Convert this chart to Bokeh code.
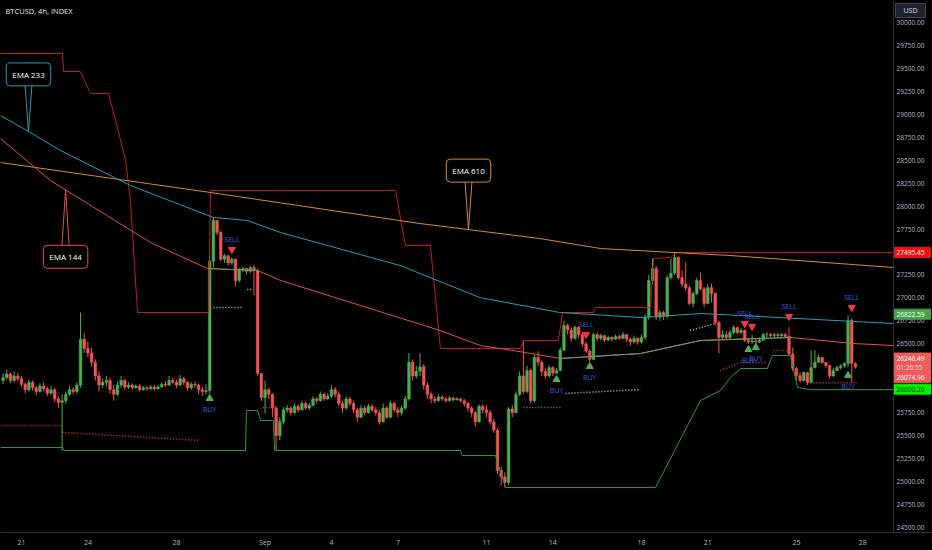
import numpy as np
from bokeh.plotting import figure
from bokeh.models import Range1d, FixedTicker, Label, ColumnDataSource, Span
from bokeh.embed import file_html
from bokeh.resources import INLINE
from bokeh.core.properties import value

# ---------------- data ----------------
symbol_title = "BTCUSD, 4h, INDEX"
first_open = 26100.0
# 4h candles, Aug 20 04:00 .. Sep 27 16:00 (one row per day)
closes = [
    26130, 26170, 26100, 26150, 26120,
    26060, 26000, 26080, 26020, 25980, 26040,
    26010, 25960, 26000, 25900, 25860, 25880,
    25950, 26000, 25980, 26050, 26550, 26450,
    26400, 26300, 26150, 26050, 26080, 26100,
    26000, 25950, 26050, 26100, 26030, 26050,
    26020, 26040, 26000, 26020, 26010, 26030,
    26010, 26030, 26060, 26050, 26100, 26080,
    26050, 26120, 26080, 26020, 26060, 26050,
    26000, 25980, 25990, 27400, 27843, 27712,
    27420, 27460, 27380, 27420, 27190, 27310,
    27320, 27290, 27330, 27300, 26176, 25915,
    26000, 25950, 25800, 25500, 25650, 25780,
    25800, 25750, 25820, 25780, 25850, 25800,
    25830, 25900, 25880, 25950, 25900, 25930,
    26000, 25950, 25850, 25800, 25900, 25850,
    25780, 25700, 25800, 25750, 25820, 25780,
    25750, 25650, 25800, 25700, 25850, 25780,
    25750, 25800, 25900, 26300, 26150, 26200,
    26250, 26050, 25950, 25900, 25880, 25920,
    25900, 25880, 25910, 25890, 25900, 25880,
    25850, 25800, 25750, 25650, 25820, 25780,
    25750, 25650, 25560, 25120, 25050, 24990,
    25790, 25750, 25950, 26150, 25980, 26210,
    25880, 26350, 26300, 26200, 26150, 26240,
    26180, 26210, 26430, 26700, 26650, 26560,
    26680, 26600, 26500, 26420, 26330, 26600,
    26560, 26590, 26540, 26570, 26550, 26580,
    26560, 26600, 26550, 26520, 26560, 26520,
    26570, 26790, 27190, 27320, 26790, 26840,
    26800, 27220, 27270, 27440, 27220, 27150,
    27110, 26940, 27048, 27190, 27100, 26940,
    27113, 27048, 26732, 26569, 26600, 26569,
    26623, 26678, 26623, 26645, 26536, 26520,
    26530, 26520, 26540, 26600, 26600, 26590,
    26600, 26590, 26600, 26580, 26390, 26231,
    26155, 26100, 26187, 26080, 26242, 26300,
    26351, 26296, 26264, 26150, 26209, 26242,
    26260, 26285, 26754, 26285, 26246.49,
]
highs = [
    26180, 26220, 26190, 26200, 26180,
    26150, 26080, 26110, 26100, 26040, 26070,
    26080, 26030, 26040, 26020, 25930, 25950,
    25980, 26040, 26030, 26080, 26841, 26620,
    26520, 26460, 26330, 26200, 26120, 26150,
    26130, 26050, 26090, 26150, 26120, 26080,
    26070, 26060, 26060, 26040, 26040, 26050,
    26050, 26050, 26080, 26090, 26150, 26130,
    26110, 26160, 26140, 26090, 26080, 26090,
    26070, 26030, 26060, 27450, 27876, 27850,
    27730, 27480, 27470, 27440, 27430, 27330,
    27340, 27330, 27350, 27360, 27320, 26180,
    26100, 26020, 25960, 25820, 25700, 25810,
    25830, 25820, 25850, 25840, 25880, 25870,
    25860, 25930, 25920, 25980, 25970, 25960,
    26050, 26030, 25980, 25880, 25930, 25920,
    25880, 25800, 25830, 25830, 25850, 25840,
    25810, 25780, 25850, 25820, 25880, 25870,
    25810, 25830, 25930, 26400, 26330, 26260,
    26400, 26280, 26080, 25980, 25930, 25950,
    25940, 25920, 25930, 25920, 25920, 25910,
    25900, 25870, 25820, 25770, 25840, 25840,
    25830, 25780, 25680, 25580, 25160, 25100,
    25810, 25830, 25980, 26200, 26540, 26260,
    26230, 26380, 26420, 26320, 26230, 26270,
    26260, 26240, 26460, 26750, 26720, 26680,
    26700, 26690, 26620, 26520, 26440, 26620,
    26620, 26610, 26600, 26590, 26580, 26600,
    26600, 26630, 26610, 26570, 26590, 26570,
    26600, 26820, 27250, 27429, 27350, 26870,
    26860, 27250, 27430, 27495, 27450, 27300,
    27385, 27130, 27070, 27220, 27277, 27120,
    27150, 27157, 27060, 26750, 26650, 26640,
    26650, 26700, 26690, 26670, 26660, 26560,
    26600, 26560, 26570, 26620, 26630, 26620,
    26620, 26620, 26620, 26620, 26680, 26460,
    26250, 26190, 26200, 26190, 26427, 26430,
    26380, 26360, 26300, 26270, 26242, 26260,
    26280, 26300, 26808, 26780, 26300,
]
lows = [
    26060, 26110, 26070, 26080, 26090,
    26030, 25960, 25980, 25990, 25940, 25970,
    25980, 25930, 25940, 25870, 25800, 25338,
    25850, 25930, 25950, 25960, 26020, 26400,
    26350, 26250, 26100, 25980, 26020, 26040,
    25960, 25880, 25930, 26020, 26000, 26010,
    26000, 26010, 25980, 25990, 25990, 26000,
    25990, 26000, 26020, 26030, 26040, 26060,
    26020, 26040, 26050, 25990, 26000, 26020,
    25950, 25930, 25950, 25960, 27330, 27680,
    27400, 27380, 27350, 27360, 27130, 27170,
    27280, 27260, 27270, 27030, 26150, 25880,
    25740, 25900, 25700, 25338, 25450, 25620,
    25750, 25720, 25730, 25750, 25770, 25780,
    25780, 25820, 25850, 25870, 25880, 25890,
    25910, 25920, 25820, 25750, 25780, 25820,
    25740, 25650, 25690, 25720, 25740, 25760,
    25720, 25620, 25640, 25680, 25690, 25750,
    25700, 25720, 25780, 25880, 26100, 26120,
    26150, 26000, 25900, 25850, 25850, 25870,
    25880, 25860, 25870, 25870, 25880, 25860,
    25820, 25760, 25700, 25600, 25640, 25740,
    25700, 25620, 25530, 25080, 24956, 24935,
    24960, 25700, 25740, 25930, 25950, 25960,
    25850, 25860, 26260, 26150, 26120, 26130,
    26150, 26170, 26200, 26420, 26600, 26520,
    26540, 26560, 26470, 26400, 26300, 26320,
    26530, 26540, 26520, 26530, 26520, 26540,
    26540, 26550, 26520, 26480, 26500, 26490,
    26500, 26540, 26760, 27150, 26760, 26750,
    26760, 26780, 27200, 27250, 27200, 27120,
    27080, 26920, 26900, 27030, 27080, 26900,
    26930, 26950, 26700, 26394, 26540, 26540,
    26550, 26600, 26600, 26600, 26520, 26500,
    26500, 26500, 26510, 26530, 26570, 26570,
    26570, 26570, 26570, 26560, 26370, 26200,
    26100, 26080, 26090, 26050, 26070, 26230,
    26290, 26280, 26240, 26120, 26140, 26200,
    26220, 26240, 26250, 26078, 26230,
]

# moving averages (day since Aug 21 00:00, price)
ema233_day = [-0.95, 0.32, 1.76, 4.92, 8.67, 10.2, 11.7, 17.1, 20.7, 24.3, 27.96, 30.7, 39.38]
ema233 = [28987, 28813, 28606, 28224, 27876, 27843, 27712, 27353, 27004, 26841, 26786, 26830, 26721]
ema610_day = [-0.95, 5.37, 8.54, 18.0, 23.4, 26.15, 32.0, 39.38]
ema610 = [28475, 28257, 28148, 27810, 27647, 27538, 27462, 27331]
ema144_day = [-0.95, 1.31, 5.83, 8.4, 10.66, 11.7, 18.9, 20.73, 22.2, 24.35, 27.96, 30.67, 34.7, 37.6, 39.38]
ema144 = [28736, 28279, 27603, 27320, 27298, 27190, 26645, 26481, 26427, 26340, 26394, 26536, 26569, 26503, 26481]
ema144_green_spans = [(3, 4), (9, 12)]

# channel lines
upper_day = [-0.95, 1.85, 1.90, 2.66, 3.12, 3.93, 4.25, 4.70, 4.92, 5.24, 8.45, 8.54, 16.89, 17.34,
             18.47, 18.92, 22.54, 22.67, 24.25, 24.44, 25.84, 25.93, 28.41, 28.55, 29.31, 29.63, 39.38]
upper_px = [29662, 29662, 29466, 29466, 29227, 29227, 28932, 28497, 28061, 26841, 26841, 28170, 28170, 27571,
            27571, 26449, 26449, 26536, 26536, 26841, 26841, 26895, 26895, 27429, 27440, 27495.45, 27495.45]
lower_day = [-0.95, 1.85, 1.90, 10.12, 10.16, 10.66, 10.8, 11.38, 11.43, 19.83, 19.9, 21.41, 21.86,
             28.64, 30.67, 31.57, 32.02, 32.48, 33.69, 33.92, 34.73, 35.05, 35.64, 39.38]
lower_px = [25370, 25370, 25338, 25338, 25773, 25773, 25664, 25664, 25338, 25338, 25283, 25283, 24935,
            24935, 25882, 25991, 26133, 26231, 26231, 26373, 26373, 26024, 26000.2, 26000.2]

# dotted stop levels
red_dot_d0 = [-0.95, 1.85, 10.9, 22.0, 31.57, 32.47, 33.97, 35.64]
red_dot_d1 = [1.85, 8.08, 11.56, 22.2, 32.47, 33.69, 34.73, 37.76]
red_dot_p0 = [25610, 25534, 25806, 25752, 26209, 26296, 26427, 26074.96]
red_dot_p1 = [25610, 25447, 25806, 25752, 26296, 26296, 26427, 26074.96]
white_dot_d0 = [8.67, 10.2, 24.57, 30.2]
white_dot_d1 = [10.03, 10.43, 27.96, 31.35]
white_dot_p0 = [26895, 27092, 25959, 26645]
white_dot_p1 = [26895, 27092, 26002, 26721]
green_dot_d0 = [22.67]
green_dot_d1 = [24.4]
green_dot_p0 = [25806]
green_dot_p1 = [25806]

# signals
buy_bar = [56, 150, 159, 202, 204, 229]
buy_price = [25904, 26111, 26253, 26438, 26460, 26155]
sell_bar = [62, 158, 201, 203, 213, 230]
sell_price = [27527, 26601, 26721, 26688, 26797, 26895]

date_tick_days = [0, 3, 7, 11, 14, 17, 21, 24, 28, 31, 35, 38]
date_tick_labels = ["21", "24", "28", "Sep", "4", "7", "11", "14", "18", "21", "25", "28"]
price_ticks = [24500, 24750, 25000, 25250, 25500, 25750, 26000, 26250, 26500, 26750, 27000, 27250,
               27500, 27750, 28000, 28250, 28500, 28750, 29000, 29250, 29500, 29750, 30000]
currency = "USD"

# right-hand price tags
tag_text = ["27495.45", "26822.59", "26246.49", "01:26:55", "26074.96", "26000.20"]
tag_value = [27495.45, 26822.59, 26246.49, 26246.49, 26074.96, 26000.20]
tag_bg = ["#f70f0f", "#46a34a", "#f05a5a", "#f05a5a", "#f05a5a", "#00f200"]
tag_fg = ["#ffffff", "#ffffff", "#ffffff", "#ffd9d9", "#ffffff", "#0a2a0a"]
tag_shift_px = [0, 0, -9, 0.5, -5.5, -0.5]   # label stacking offsets (screen px)

# ---------------- layout ----------------
FW, FH = 932, 550
BB = 18
SCALE_X = 893          # x pixel where the price scale begins
FRAME_H = FH - BB
X0, X1 = -0.9485, 39.386   # days mapped to pixel 0 .. SCALE_X
Y0, Y1 = 24444.4, 30239.7
DPX = (X1 - X0) / SCALE_X
PPX = (Y1 - Y0) / FRAME_H
XR = X0 + FW * DPX


def rx(px):
    return X0 + px * DPX


def ry(py):
    return Y1 - py * PPX


p = figure(width=FW, height=FH, x_range=Range1d(X0, XR), y_range=Range1d(Y0, Y1),
           output_backend="svg", toolbar_location=None, y_axis_location=None,
           min_border_left=0, min_border_top=0, min_border_right=0, min_border_bottom=BB,
           background_fill_color="#000000", border_fill_color="#000000", outline_line_color=None)
p.grid.visible = False
xa = p.xaxis[0]
xa.ticker = FixedTicker(ticks=date_tick_days)
xa.major_label_overrides = {d: l for d, l in zip(date_tick_days, date_tick_labels)}
xa.axis_line_color = "#2a2e39"
xa.major_tick_line_color = None
xa.minor_tick_line_color = None
xa.major_tick_out = 0
xa.major_tick_in = 0
xa.major_label_text_color = "#b2b5be"
xa.major_label_text_font = "Open Sans"
xa.major_label_text_font_size = "7px"
xa.major_label_standoff = 5

# candles
n = len(closes)
bar_day = [(i - 5) / 6 for i in range(n)]
opens = [first_open] + closes[:-1]
cols = ["#4caf50" if c >= o else "#f05454" for o, c in zip(opens, closes)]
src = ColumnDataSource(dict(x=bar_day, h=highs, l=lows,
                            top=[max(o, c) for o, c in zip(opens, closes)],
                            bot=[min(o, c) for o, c in zip(opens, closes)], col=cols))
p.segment(x0="x", y0="l", x1="x", y1="h", line_color="col", line_width=1, source=src)
p.vbar(x="x", width=0.12, top="top", bottom="bot", fill_color="col", line_color="col",
       line_width=0.5, source=src)

# lines
p.line(upper_day, upper_px, line_color="#c11c1c", line_width=1)
p.line(lower_day, lower_px, line_color="#2f9a2f", line_width=1)
p.line(ema610_day, ema610, line_color="#d68a2a", line_width=1)
p.line(ema233_day, ema233, line_color="#22a0b0", line_width=1)
p.line(ema144_day, ema144, line_color="#e0504a", line_width=1)
for a, b in ema144_green_spans:
    p.line(ema144_day[a:b + 1], ema144[a:b + 1], line_color="#4caf50", line_width=1)

p.segment(x0=red_dot_d0, y0=red_dot_p0, x1=red_dot_d1, y1=red_dot_p1, line_color="#e04040",
          line_width=1.5, line_dash="1 2")
p.segment(x0=white_dot_d0, y0=white_dot_p0, x1=white_dot_d1, y1=white_dot_p1, line_color="#c8c8c8",
          line_width=1.5, line_dash="1 2")
p.segment(x0=green_dot_d0, y0=green_dot_p0, x1=green_dot_d1, y1=green_dot_p1, line_color="#4caf50",
          line_width=1.5, line_dash="1 2")

# signals
bx = [bar_day[i] for i in buy_bar]
sx = [bar_day[i] for i in sell_bar]
p.scatter(bx, buy_price, marker="triangle", size=7, fill_color="#4caf50", line_color="#4caf50")
p.scatter(sx, sell_price, marker="inverted_triangle", size=7, fill_color="#f23645", line_color="#f23645")
p.text(bx, [v - 11 * PPX for v in buy_price], text=["BUY"] * len(bx), text_font=value("Open Sans"),
       text_font_size="7px", text_color="#2f62e0", text_align="center", text_baseline="middle")
p.text(sx, [v + 10 * PPX for v in sell_price], text=["SELL"] * len(sx), text_font=value("Open Sans"),
       text_font_size="7px", text_color="#2f62e0", text_align="center", text_baseline="middle")

# callouts
callouts = [("EMA 233", ema233_day, ema233, "#22a0b0", 0.316, -57),
            ("EMA 144", ema144_day, ema144, "#e0504a", 1.99, 67),
            ("EMA 610", ema610_day, ema610, "#d68a2a", 20.19, -59)]
for txt, dd, vv, c, day, dy in callouts:
    tip = float(np.interp(day, dd, vv))
    center = tip - dy * PPX
    base = center + (10 if dy < 0 else -10) * PPX
    p.patch([day, day - 5 * DPX, day + 5 * DPX], [tip, base, base], fill_color="#000000",
            line_color=c, line_width=1)
    p.add_layout(Label(x=day, y=center, text=txt, text_align="center", text_baseline="middle",
                       text_font="Open Sans", text_font_size="8px", text_color="#ffffff",
                       background_fill_color="#000000", background_fill_alpha=1.0,
                       border_line_color=c, border_radius=4, padding=6))

p.add_layout(Label(x=rx(5), y=ry(10), text=symbol_title, text_align="left", text_baseline="middle",
                   text_font="Open Sans", text_font_size="7.5px", text_color="#e0e3eb"))

# ---------------- price scale (right strip) ----------------
p.add_layout(Span(location=X1, dimension="height", line_color="#2a2e39", line_width=1))
p.text(x=[rx(SCALE_X + 3)] * len(price_ticks), y=price_ticks, text=["%.2f" % v for v in price_ticks],
       text_color="#b2b5be", text_font=value("Open Sans"), text_font_size="6.6px",
       text_align="left", text_baseline="middle")

tag_y = [v - s * PPX for v, s in zip(tag_value, tag_shift_px)]
tsrc = ColumnDataSource(dict(y=tag_y, top=[v + 5 * PPX for v in tag_y], bottom=[v - 5 * PPX for v in tag_y],
                             text=tag_text, bg=tag_bg, fg=tag_fg))
p.quad(left=X1, right=rx(FW - 2), top="top", bottom="bottom", fill_color="bg", line_color="bg", source=tsrc)
p.text(x=rx(SCALE_X + 3), y="y", text="text", text_color="fg", text_font=value("Open Sans"),
       text_font_size="6.6px", text_align="left", text_baseline="middle", source=tsrc)
p.quad(left=[rx(SCALE_X + 2)], right=[rx(SCALE_X + 32)], top=[ry(3)], bottom=[ry(17)],
       fill_color="#1e222d", line_color="#434651")
p.text(x=[rx(SCALE_X + 17)], y=[ry(10)], text=[currency], text_color="#d1d4dc", text_font=value("Open Sans"),
       text_font_size="7px", text_align="center", text_baseline="middle")

tpl = "{% block postamble %}<style>html, body { background: #000000; }</style>{% endblock %}"
open("out.html", "w").write(file_html(p, INLINE, template=tpl))
